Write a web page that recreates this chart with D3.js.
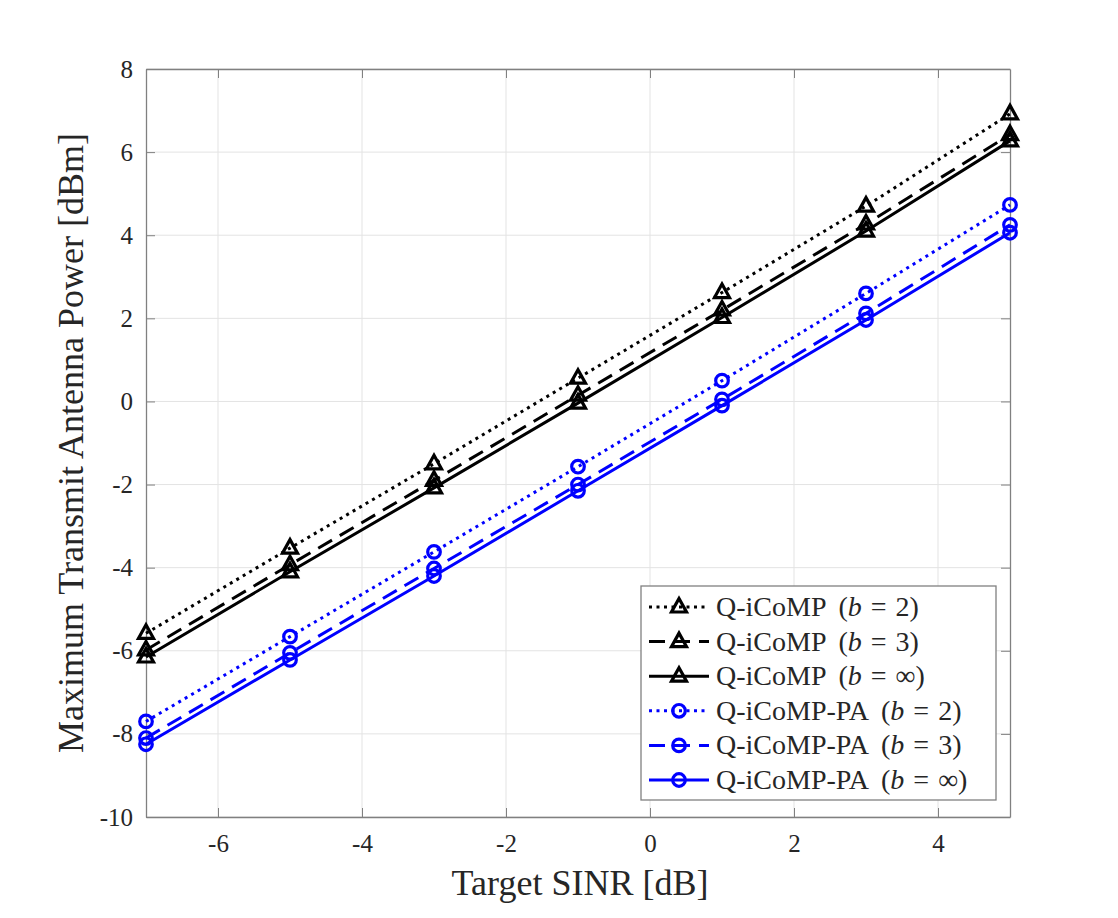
<!DOCTYPE html>
<html>
<head>
<meta charset="utf-8">
<script src="https://cdn.jsdelivr.net/npm/d3@7"></script>
<style>
  body { margin: 0; background: #fff; }
  svg text { font-family: "Liberation Serif", "DejaVu Serif", serif; fill: #262626; }
</style>
</head>
<body>
<svg id="chart" width="1118" height="918"></svg>
<script>
const sinr = [-7, -5, -3, -1, 1, 3, 5];
const xTicks = [-6, -4, -2, 0, 2, 4];
const yTicks = [-10, -8, -6, -4, -2, 0, 2, 4, 6, 8];

const icompB2 = [-5.58, -3.53, -1.5, 0.56, 2.62, 4.7, 6.92];
const icompB3 = [-5.98, -3.93, -1.9, 0.15, 2.2, 4.27, 6.42];
const icompInf = [-6.15, -4.1, -2.08, -0.04, 2.02, 4.1, 6.27];
const paB2 = [-7.7, -5.66, -3.62, -1.57, 0.5, 2.6, 4.73];
const paB3 = [-8.1, -6.05, -4.02, -2.0, 0.05, 2.12, 4.25];
const paInf = [-8.25, -6.22, -4.2, -2.15, -0.1, 1.96, 4.06];

const series = [
  { label: "Q-iCoMP", b: "2", values: icompB2, color: "#000", dash: "3,4.5", marker: "tri" },
  { label: "Q-iCoMP", b: "3", values: icompB3, color: "#000", dash: "16,9", marker: "tri" },
  { label: "Q-iCoMP", b: "\u221E", values: icompInf, color: "#000", dash: null, marker: "tri" },
  { label: "Q-iCoMP-PA", b: "2", values: paB2, color: "#0000ff", dash: "3,4.5", marker: "circ" },
  { label: "Q-iCoMP-PA", b: "3", values: paB3, color: "#0000ff", dash: "16,9", marker: "circ" },
  { label: "Q-iCoMP-PA", b: "\u221E", values: paInf, color: "#0000ff", dash: null, marker: "circ" }
];

const svg = d3.select("#chart");
const margin = { left: 146, top: 69, right: 1010, bottom: 817 };

const x = d3.scaleLinear().domain([-7, 5]).range([margin.left, margin.right]);
const y = d3.scaleLinear().domain([-10, 8]).range([margin.bottom, margin.top]);

// grid
const grid = svg.append("g").attr("stroke", "#e3e3e3").attr("stroke-width", 1);
grid.selectAll(".gx").data(xTicks).enter().append("line")
  .attr("x1", d => x(d)).attr("x2", d => x(d))
  .attr("y1", margin.top).attr("y2", margin.bottom);
grid.selectAll(".gy").data(yTicks).enter().append("line")
  .attr("y1", d => y(d)).attr("y2", d => y(d))
  .attr("x1", margin.left).attr("x2", margin.right);

// axes (ticks inward, box), plain hyphen for negatives
const axisColor = "#808080";
const fmt = d => String(d);
const xAxis = svg.append("g").attr("transform", "translate(0," + margin.bottom + ")")
  .call(d3.axisBottom(x).tickValues(xTicks).tickSizeInner(-9).tickSizeOuter(0).tickPadding(17).tickFormat(fmt));
const yAxis = svg.append("g").attr("transform", "translate(" + margin.left + ",0)")
  .call(d3.axisLeft(y).tickValues(yTicks).tickSizeInner(-9).tickSizeOuter(0).tickPadding(13).tickFormat(fmt));
const xTop = svg.append("g").attr("transform", "translate(0," + margin.top + ")")
  .call(d3.axisTop(x).tickValues(xTicks).tickSizeInner(-9).tickSizeOuter(0).tickFormat(""));
const yRight = svg.append("g").attr("transform", "translate(" + margin.right + ",0)")
  .call(d3.axisRight(y).tickValues(yTicks).tickSizeInner(-9).tickSizeOuter(0).tickFormat(""));

[xAxis, yAxis, xTop, yRight].forEach(a => {
  a.attr("font-size", 25).attr("font-family", "Liberation Serif, serif");
  a.select(".domain").attr("stroke", axisColor).attr("stroke-width", 1.3);
  a.selectAll(".tick line").attr("stroke", axisColor).attr("stroke-width", 1);
  a.selectAll(".tick text").attr("fill", "#262626");
});

// lines
const line = d3.line().x((d, i) => x(sinr[i])).y(d => y(d));
const plot = svg.append("g");

function drawMarker(g, type, color) {
  if (type === "tri") {
    g.append("path").attr("d", "M0,-8.5L7.5,5L-7.5,5Z")
      .attr("fill", "none").attr("stroke", color).attr("stroke-width", 3.2)
      .attr("stroke-linejoin", "miter");
  } else {
    g.append("circle").attr("r", 6.3)
      .attr("fill", "none").attr("stroke", color).attr("stroke-width", 3.2);
  }
}

series.forEach(s => {
  plot.append("path").datum(s.values)
    .attr("d", line)
    .attr("fill", "none")
    .attr("stroke", s.color)
    .attr("stroke-width", 3)
    .attr("stroke-dasharray", s.dash);
  s.values.forEach((v, i) => {
    const g = plot.append("g").attr("transform", "translate(" + x(sinr[i]) + "," + y(v) + ")");
    drawMarker(g, s.marker, s.color);
  });
});

// axis labels
svg.append("text")
  .attr("x", 580)
  .attr("y", 895)
  .attr("text-anchor", "middle")
  .attr("font-size", 36)
  .text("Target SINR [dB]");

svg.append("text")
  .attr("transform", "translate(83,443) rotate(-90)")
  .attr("text-anchor", "middle")
  .attr("font-size", 36)
  .text("Maximum Transmit Antenna Power [dBm]");

// legend
const legend = svg.append("g").attr("transform", "translate(641,586)");
legend.append("rect")
  .attr("width", 355).attr("height", 214)
  .attr("fill", "#fff").attr("stroke", axisColor).attr("stroke-width", 1.3);

series.forEach((s, i) => {
  const row = legend.append("g").attr("transform", "translate(0," + (21 + i * 34.6) + ")");
  row.append("line")
    .attr("x1", 8).attr("x2", 68)
    .attr("stroke", s.color).attr("stroke-width", 3)
    .attr("stroke-dasharray", s.dash);
  const m = row.append("g").attr("transform", "translate(38,0)");
  drawMarker(m, s.marker, s.color);
  const t = row.append("text").attr("x", 75).attr("y", 9).attr("font-size", 28).attr("fill", "#000");
  t.append("tspan").text(s.label);
  t.append("tspan").attr("dx", 12).text("(");
  t.append("tspan").attr("font-style", "italic").text("b");
  t.append("tspan").attr("dx", 9).text("=");
  t.append("tspan").attr("dx", 9).text(s.b);
  t.append("tspan").text(")");
});
</script>
</body>
</html>
